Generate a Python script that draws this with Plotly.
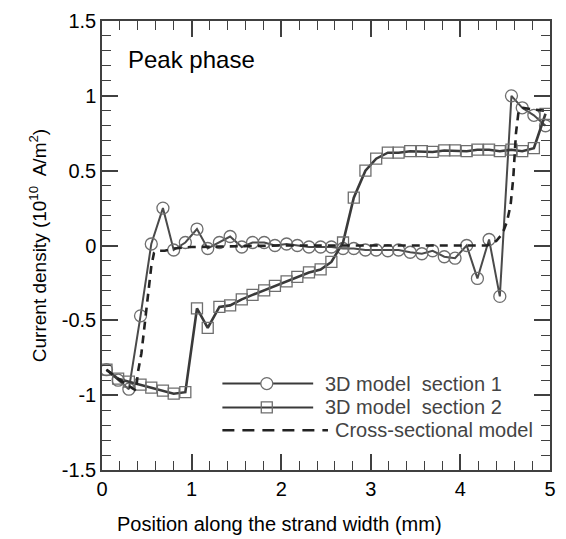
import plotly.graph_objects as go

# ---- data ----
x_pos = [0.05, 0.18, 0.30, 0.43, 0.55, 0.68, 0.80, 0.93, 1.06, 1.18,
         1.31, 1.43, 1.56, 1.68, 1.81, 1.93, 2.06, 2.18, 2.31, 2.44,
         2.56, 2.69, 2.81, 2.94, 3.06, 3.19, 3.31, 3.44, 3.57, 3.69,
         3.82, 3.94, 4.07, 4.19, 4.32, 4.44, 4.57, 4.69, 4.82, 4.95]

sec1 = [-0.83, -0.90, -0.96, -0.47, 0.01, 0.25, -0.03, 0.02, 0.11, -0.02,
        0.02, 0.06, -0.01, 0.02, 0.02, 0.00, 0.01, 0.00, -0.01, -0.01,
        -0.01, -0.02, -0.02, -0.03, -0.03, -0.035, -0.03, -0.045, -0.055, -0.035,
        -0.075, -0.085, 0.00, -0.22, 0.04, -0.34, 1.00, 0.92, 0.87, 0.80]

sec2 = [-0.83, -0.89, -0.91, -0.93, -0.95, -0.97, -0.99, -0.98, -0.42, -0.55,
        -0.41, -0.40, -0.36, -0.33, -0.30, -0.27, -0.24, -0.21, -0.18, -0.16,
        -0.11, 0.02, 0.32, 0.50, 0.58, 0.62, 0.62, 0.63, 0.63, 0.625,
        0.635, 0.635, 0.63, 0.64, 0.64, 0.63, 0.64, 0.63, 0.65, 0.88]

x_cs = [0.05, 0.20, 0.38, 0.40, 0.44, 0.50, 0.55, 0.58, 0.62, 0.70,
        0.80, 1.00, 1.50, 2.00, 3.00, 4.00, 4.30, 4.40, 4.47, 4.52,
        4.56, 4.59, 4.62, 4.65, 4.70, 4.80, 4.95]
y_cs = [-0.83, -0.90, -0.97, -0.85, -0.72, -0.42, -0.14, -0.05, -0.035, -0.035,
        -0.02, -0.01, -0.005, 0.0, 0.0, 0.0, 0.0, 0.03, 0.08, 0.16,
        0.27, 0.45, 0.75, 0.90, 0.92, 0.91, 0.90]

x_ticks = [0, 1, 2, 3, 4, 5]
x_tick_text = ["0", "1", "2", "3", "4", "5"]
y_ticks = [-1.5, -1, -0.5, 0, 0.5, 1, 1.5]
y_tick_text = ["-1.5", "-1", "-0.5", "0", "0.5", "1", "1.5"]

legend_labels = ["3D model  section 1", "3D model  section 2", "Cross-sectional model"]

# ---- styling ----
FONT = "Liberation Sans, Arial, sans-serif"
LINE1 = "#4a4a4a"
LINE2 = "#3a3a3a"
MARK = "#6e6e6e"
AX = "#404040"
FS = 20

fig = go.Figure()
fig.add_trace(go.Scatter(
    x=x_pos, y=sec1, mode="lines+markers",
    line=dict(color=LINE1, width=2),
    marker=dict(symbol="circle-open", size=12, color=MARK, line=dict(width=1.3)),
    showlegend=False))
fig.add_trace(go.Scatter(
    x=x_pos, y=sec2, mode="lines+markers",
    line=dict(color=LINE2, width=2.6),
    marker=dict(symbol="square-open", size=11, color=MARK, line=dict(width=1.3)),
    showlegend=False))
fig.add_trace(go.Scatter(
    x=x_cs, y=y_cs, mode="lines",
    line=dict(color="#222222", width=2.6, dash="8px,6px"),
    showlegend=False))

# plot area in pixels
L, R, T, B = 102, 556, 18, 470
W, H = 566, 539
def px(xp):
    return (xp - L) / (R - L)
def py(yp):
    return (B - yp) / (B - T)

shapes = []
annotations = []
rows = [383, 407, 430]
line_x0 = 224
line_x1 = [316, 316, 331]
text_x = [326, 326, 336]
for i, lab in enumerate(legend_labels):
    yy = py(rows[i])
    shapes.append(dict(type="line", xref="paper", yref="paper",
                       x0=px(line_x0), x1=px(line_x1[i]), y0=yy, y1=yy,
                       line=dict(color=LINE2 if i < 2 else "#222222",
                                 width=2 if i < 2 else 2.6,
                                 dash="solid" if i < 2 else "12px,8px")))
    annotations.append(dict(x=px(text_x[i]), y=yy, xref="paper", yref="paper",
                            text=lab, showarrow=False, xanchor="left", yanchor="middle",
                            font=dict(family=FONT, size=FS, color="#444444")))
# legend markers
mx = px(269)
shapes.append(dict(type="circle", xref="paper", yref="paper", xsizemode="pixel", ysizemode="pixel",
                   xanchor=mx, yanchor=py(rows[0]), x0=-6, x1=6, y0=-6, y1=6,
                   fillcolor="white", line=dict(color=MARK, width=1.3)))
shapes.append(dict(type="rect", xref="paper", yref="paper", xsizemode="pixel", ysizemode="pixel",
                   xanchor=mx, yanchor=py(rows[1]), x0=-5.5, x1=5.5, y0=-5.5, y1=5.5,
                   fillcolor="rgba(0,0,0,0)", line=dict(color=MARK, width=1.3)))

annotations.append(dict(x=px(126), y=py(57), xref="paper", yref="paper", text="Peak phase",
                        showarrow=False, xanchor="left", yanchor="middle",
                        font=dict(family=FONT, size=24, color="black")))

# x-axis title (centred on the figure, as in the original)
annotations.append(dict(x=px(282), y=py(524), xref="paper", yref="paper",
                        text="Position along the strand width (mm)",
                        showarrow=False, xanchor="center", yanchor="middle",
                        font=dict(family=FONT, size=20, color="black")))

axis_common = dict(
    showline=True, linecolor=AX, linewidth=1.5, mirror="ticks",
    ticks="inside", ticklen=16, tickwidth=1.5, tickcolor=AX,
    showgrid=False, zeroline=False,
    tickfont=dict(family=FONT, size=FS, color="black"),
)

fig.update_layout(
    width=W, height=H,
    margin=dict(l=L, r=W - R, t=T, b=H - B),
    plot_bgcolor="white", paper_bgcolor="white",
    font=dict(family=FONT, size=FS, color="black"),
    xaxis=dict(range=[0, 5], tickvals=x_ticks, ticktext=x_tick_text,
               minor=dict(ticks="inside", ticklen=9, dtick=0.2, tickwidth=1.3, tickcolor=AX),
               **axis_common),
    yaxis=dict(range=[-1.5, 1.5], tickvals=y_ticks, ticktext=y_tick_text,
               minor=dict(ticks="inside", ticklen=9, dtick=0.1, tickwidth=1.3, tickcolor=AX),
               title=dict(text="Current density (10<sup>10</sup>  A/m<sup>2</sup>)", standoff=10,
                          font=dict(family=FONT, size=19)),
               **axis_common),
    shapes=shapes, annotations=annotations,
)

fig.write_html("out.html")
